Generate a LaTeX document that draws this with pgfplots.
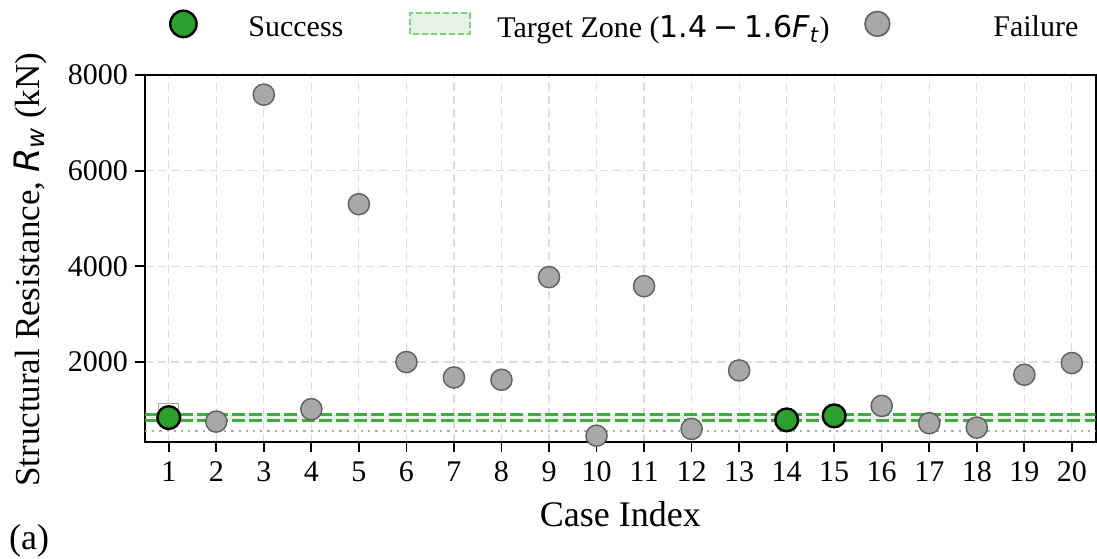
\documentclass[border=0pt]{standalone}
\usepackage{fontspec}
\setmainfont{Liberation Serif}
\newfontfamily\dejavu{DejaVu Sans}
\usepackage{pgfplots}
\pgfplotsset{compat=1.18}
\usetikzlibrary{calc}

\definecolor{succgreen}{RGB}{44,160,44}
\definecolor{zonegreen}{RGB}{62,172,62}
\definecolor{zoneedge}{RGB}{130,205,130}
\definecolor{failfill}{RGB}{168,168,168}
\definecolor{failedge}{RGB}{95,95,95}
\definecolor{gridgray}{RGB}{220,220,220}

\tikzset{zoneline/.style={zonegreen, line width=1.6bp, dash pattern=on 6.5bp off 2.2bp}}

\begin{document}
\begin{tikzpicture}
\begin{axis}[
    name=ax,
    scale only axis,
    width=475.3bp, height=183.35bp,
    xmin=0.5, xmax=20.5,
    ymin=333, ymax=8000,
    xtick={1,...,20},
    ytick={2000,4000,6000,8000},
    tick pos=left,
    tick align=outside,
    major tick length=5bp,
    every tick/.style={black, line width=0.9bp},
    axis line style={black, line width=0.9bp},
    grid=major,
    major grid style={gridgray, line width=0.6bp, dash pattern=on 4bp off 2.5bp},
    ticklabel style={font=\fontsize{15bp}{17bp}\selectfont},
    xticklabel style={yshift=-1.5bp},
    /pgf/number format/assume math mode=true,
    /pgf/number format/1000 sep={},
    every axis x label/.style={at={(axis description cs:0.5,0)}, anchor=base, yshift=-42.5bp,
        font=\fontsize{18bp}{20bp}\selectfont},
    every axis y label/.style={at={(axis description cs:0,0.469)}, xshift=-57.5bp, rotate=90,
        anchor=center, font=\fontsize{17.5bp}{20bp}\selectfont},
    xlabel={Case Index},
    ylabel={Structural Resistance, {\dejavu\itshape R\textsubscript{w}} (kN)},
    legend columns=3,
    legend cell align=left,
    legend style={draw=none, fill=none, inner sep=0pt, outer sep=0pt,
        nodes={inner sep=0pt, yshift=-2bp},
        font=\fontsize{15bp}{17bp}\selectfont,
        at={(axis description cs:0,1)}, anchor=west, xshift=12bp, yshift=25bp},
]

% legend entries (drawn in this order)
\addlegendimage{legend image code/.code={
    \path[draw=none, fill=none] (0bp,-7bp) rectangle (39.5bp,7bp);
    \draw[fill=succgreen, draw=black, line width=1.2bp] (7bp,0pt) circle[radius=6.6bp];
}}
\addlegendentry{\makebox[48.5bp][l]{Success}}
\addlegendimage{legend image code/.code={
    \path[draw=none, fill=none] (0bp,-7bp) rectangle (76bp,7bp);
    \fill[succgreen, opacity=0.12] (32.5bp,-5.25bp) rectangle (62.5bp,5.25bp);
    \draw[zoneedge, line width=1bp, dash pattern=on 3bp off 1.5bp] (32.5bp,-5.25bp) rectangle (62.5bp,5.25bp);
}}
\addlegendentry{\makebox[172.5bp][l]{Target Zone ({\dejavu 1.4\hspace{0.2em}−\hspace{0.2em}1.6\textit{F}\textsubscript{\textit{t}}})}}
\addlegendimage{legend image code/.code={
    \path[draw=none, fill=none] (0bp,-7bp) rectangle (75.5bp,7bp);
    \draw[fill=failfill, draw=failedge, line width=0.8bp] (17.5bp,0pt) circle[radius=6.2bp];
}}
\addlegendentry{Failure}

% target zone 1.4-1.6 Ft, Ft = 560 kN
\addplot[forget plot, draw=none, fill=succgreen, fill opacity=0.12]
    coordinates {(0.5,784) (20.5,784) (20.5,896) (0.5,896) (0.5,784)};
\addplot[forget plot, zoneline] coordinates {(0.5,784) (20.5,784)};
\addplot[forget plot, zoneline] coordinates {(0.5,896) (20.5,896)};
\addplot[forget plot, gray!65, line width=1.1bp, dash pattern=on 1.1bp off 2.5bp]
    coordinates {(0.5,560) (20.5,560)};

% stray marker hidden behind case 1
\addplot[forget plot, only marks, mark=square, mark size=5bp,
    mark options={draw=gray!70, line width=0.6bp, fill=none}]
    coordinates {(1,915)};

% failures
\addplot[forget plot, only marks, mark=*, mark size=5.3bp,
    mark options={fill=failfill, draw=failedge, line width=0.7bp}]
    table {
x y
2 753
3 7589
4 1013
5 5299
6 1999
7 1676
8 1628
9 3774
10 459
11 3585
12 600
13 1823
16 1082
17 720
18 628
19 1733
20 1978
};

% successes
\addplot[forget plot, only marks, mark=*, mark size=5.7bp,
    mark options={fill=succgreen, draw=black, line width=1.2bp}]
    table {
x y
1 837
14 789
15 873
};

\end{axis}
\node[anchor=base west, font=\fontsize{18bp}{20bp}\selectfont]
    at ($(ax.south west)+(-71.5bp,-54bp)$) {(a)};
\pgfresetboundingbox
\path[use as bounding box] ($(ax.south west)+(-72.5bp,-58.65bp)$)
    rectangle ($(ax.north east)+(0.7bp,37.5bp)$);
\end{tikzpicture}
\end{document}
